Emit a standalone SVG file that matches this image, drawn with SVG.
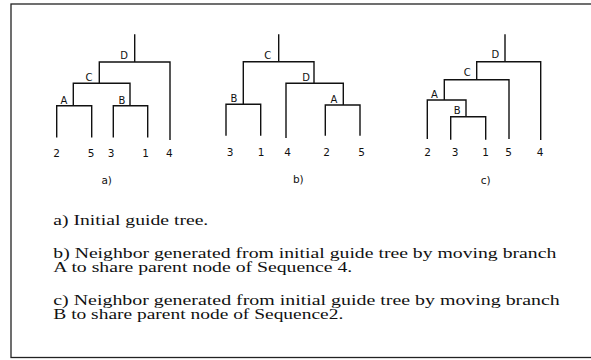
<svg xmlns="http://www.w3.org/2000/svg" width="591" height="360" viewBox="0 0 591 360">
<style>
.bg{fill:#fff}
.frame{fill:none;stroke:#222;stroke-width:1.3}
.br{fill:none;stroke:#111;stroke-width:1.4;stroke-linecap:square}
.lbl{font-family:"DejaVu Sans","Verdana",sans-serif;font-size:10px;fill:#111;text-anchor:middle}
.leaf{font-family:"DejaVu Sans","Verdana",sans-serif;font-size:10.5px;fill:#111;text-anchor:middle}
.cap{font-family:"Liberation Serif","Times New Roman",serif;font-size:14.5px;fill:#111}
</style>
<rect class="bg" x="0" y="0" width="591" height="360"/>
<rect class="frame" x="11" y="4" width="590" height="353.5"/>

<g id="connectors">
  <g id="edges-a">
    <path class="br" d="M134.7 35V62M99.3 62H170M170 62V139.3M99.3 62V83.3M73.3 83.3H130M73.3 83.3V105.7M130 83.3V105.7M56.7 105.7H91.7M56.7 105.7V136.7M91.7 105.7V136.7M113.3 105.7H147.7M113.3 105.7V136.7M147.7 105.7V136.7"/>
  </g>
  <g id="edges-b">
    <path class="br" d="M278.7 35V61.7M243.3 61.7H314M243.3 61.7V104.3M314 61.7V83.3M226 104.3H260.7M226 104.3V135M260.7 104.3V135M286 83.3H343.3M286 83.3V137.3M343.3 83.3V105M325.3 105H360M325.3 105V135M360 105V135"/>
  </g>
  <g id="edges-c">
    <path class="br" d="M505 35V61.7M476.7 61.7H540.7M540.7 61.7V139.3M476.7 61.7V79.7M444.3 79.7H509M509 79.7V138.3M444.3 79.7V100M427.3 100H466M427.3 100V138.3M466 100V116.7M450.7 116.7H485.7M450.7 116.7V139M485.7 116.7V139"/>
  </g>
</g>

<g id="tree-a">
  <g id="a-D"><text class="lbl" x="124" y="58.7">D</text></g>
  <g id="a-C"><text class="lbl" x="89" y="81.4">C</text></g>
  <g id="a-A"><text class="lbl" x="64" y="103.7">A</text></g>
  <g id="a-B"><text class="lbl" x="122" y="103.7">B</text></g>
  <g id="a-leaf2"><text class="leaf" x="56.7" y="156.8">2</text></g>
  <g id="a-leaf5"><text class="leaf" x="91" y="156.8">5</text></g>
  <g id="a-leaf3"><text class="leaf" x="111" y="156.8">3</text></g>
  <g id="a-leaf1"><text class="leaf" x="145.7" y="156.8">1</text></g>
  <g id="a-leaf4"><text class="leaf" x="169.3" y="156.8">4</text></g>
  <g id="a-title"><text class="leaf" x="106.7" y="183.5">a)</text></g>
</g>

<g id="tree-b">
  <g id="b-C"><text class="lbl" x="267.7" y="58.7">C</text></g>
  <g id="b-D"><text class="lbl" x="306" y="81">D</text></g>
  <g id="b-B"><text class="lbl" x="234" y="102">B</text></g>
  <g id="b-A"><text class="lbl" x="334" y="103">A</text></g>
  <g id="b-leaf3"><text class="leaf" x="230" y="156.1">3</text></g>
  <g id="b-leaf1"><text class="leaf" x="261" y="156.1">1</text></g>
  <g id="b-leaf4"><text class="leaf" x="287.7" y="156.1">4</text></g>
  <g id="b-leaf2"><text class="leaf" x="326.7" y="156.1">2</text></g>
  <g id="b-leaf5"><text class="leaf" x="361.7" y="156.1">5</text></g>
  <g id="b-title"><text class="leaf" x="298.3" y="183">b)</text></g>
</g>

<g id="tree-c">
  <g id="c-D"><text class="lbl" x="495.3" y="57.7">D</text></g>
  <g id="c-C"><text class="lbl" x="467.3" y="76.4">C</text></g>
  <g id="c-A"><text class="lbl" x="434.3" y="98">A</text></g>
  <g id="c-B"><text class="lbl" x="457.3" y="114.4">B</text></g>
  <g id="c-leaf2"><text class="leaf" x="427.7" y="156.1">2</text></g>
  <g id="c-leaf3"><text class="leaf" x="455" y="156.1">3</text></g>
  <g id="c-leaf1"><text class="leaf" x="485.7" y="156.1">1</text></g>
  <g id="c-leaf5"><text class="leaf" x="508.7" y="156.1">5</text></g>
  <g id="c-leaf4"><text class="leaf" x="540" y="156.1">4</text></g>
  <g id="c-title"><text class="leaf" x="485.7" y="183.5">c)</text></g>
</g>

<g id="captions" xml:space="preserve">
  <text class="cap" x="53.3" y="225" textLength="155" lengthAdjust="spacingAndGlyphs">a) Initial guide tree.</text>
  <text class="cap" x="53.3" y="258.3" textLength="503" lengthAdjust="spacingAndGlyphs">b) Neighbor generated from initial guide tree by moving branch</text>
  <text class="cap" x="53.3" y="272.3" textLength="299" lengthAdjust="spacingAndGlyphs">A to share parent node of Sequence 4.</text>
  <text class="cap" x="53.3" y="305" textLength="506.5" lengthAdjust="spacingAndGlyphs">c)  Neighbor generated from initial guide tree by moving branch</text>
  <text class="cap" x="53.3" y="319" textLength="290" lengthAdjust="spacingAndGlyphs">B to share parent node of Sequence2.</text>
</g>
</svg>
